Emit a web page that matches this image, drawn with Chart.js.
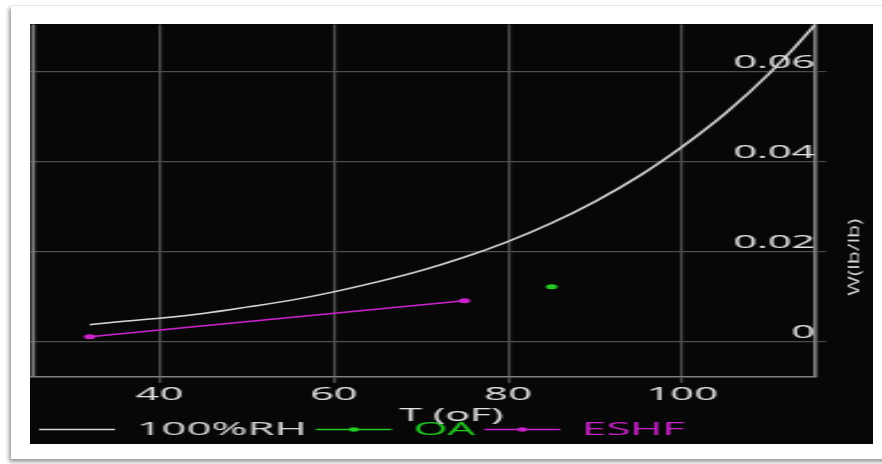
<!DOCTYPE html>
<html>
<head>
<meta charset="utf-8">
<title>Psychrometric chart</title>
<script src="https://cdn.jsdelivr.net/npm/chart.js@4.4.1/dist/chart.umd.min.js"></script>
<style>
  html, body { margin: 0; padding: 0; background: #fff; }
  body { width: 882px; height: 464px; position: relative; overflow: hidden; }
  #frame { position: absolute; left: 11px; top: 5px; width: 890px; height: 453px; background: #fff;
           border-top: 1px solid #e6e6e6; box-shadow: -2px 3px 4px rgba(0,0,0,0.4); }
  #chart { position: absolute; left: 30px; top: 24px; background: #070707; }
</style>
</head>
<body>
<div id="frame"></div>
<!-- the source screenshot was stretched sideways, so the canvas is drawn narrow and widened by CSS -->
<canvas id="chart" width="367" height="420" style="width: 843px; height: 420px;"></canvas>
<script>
// Data
const rhTemps = [32, 35, 40, 45, 50, 55, 60, 65, 70, 75, 80, 85, 90, 95, 100, 105, 110, 115, 120];
const rhW = [0.0038, 0.0044, 0.0052, 0.0063, 0.0077, 0.0092, 0.0111, 0.0133, 0.0158, 0.0188,
             0.0223, 0.0264, 0.0312, 0.0368, 0.0434, 0.0509, 0.0597, 0.0700, 0.0821];
const oaTemps = [85];
const oaW = [0.0122];
const eshfTemps = [32, 75];
const eshfW = [0.0011, 0.0091];

const seriesLabels = ['100%RH', 'OA', 'ESHF'];
const xTicks = [40, 60, 80, 100];
const xTickLabels = ['40', '60', '80', '100'];
const yTicks = [0, 0.02, 0.04, 0.06];
const yTickLabels = ['0', '0.02', '0.04', '0.06'];
const xTitle = 'T (oF)';
const yTitle = 'W(lb/lb)';

// Styling
const STRETCH = 843 / 367;
const seriesColors = ['#d6d6d6', '#22cc22', '#cc22cc'];
const textColor = '#e2e2e2';
const gridColor = '#4e4e4e';
const axisColor = '#808080';
const legendBox = 33;
const legendFont = 19;

Chart.defaults.font.family = "'Open Sans', sans-serif";
Chart.defaults.color = textColor;

const toPoints = (xs, ys) => xs.map((x, i) => ({ x: x, y: ys[i] }));

// left frame line, legend dots and the two axis titles
const extras = {
    id: 'extras',
    afterDraw(chart) {
        const { ctx, chartArea: area } = chart;
        ctx.save();
        ctx.strokeStyle = axisColor;
        ctx.lineWidth = 1.6;
        ctx.beginPath();
        ctx.moveTo(area.left + 1.4, area.top);
        ctx.lineTo(area.left + 1.4, area.bottom);
        ctx.stroke();

        chart.legend.legendHitBoxes.forEach((hb, i) => {
            if (!chart.data.datasets[i].pointRadius) return;
            ctx.fillStyle = seriesColors[i];
            ctx.beginPath();
            ctx.arc(hb.left + legendBox / 2, hb.top + legendFont / 2, 2.2, 0, Math.PI * 2);
            ctx.fill();
        });

        ctx.fillStyle = textColor;
        ctx.font = "18px 'Open Sans'";
        ctx.textAlign = 'center';
        ctx.textBaseline = 'middle';
        ctx.fillText(xTitle, chart.width / 2, area.bottom + 39);

        ctx.translate(area.right + 17.8, area.top + area.height * 0.66);
        ctx.scale(1 / STRETCH, 1);
        ctx.rotate(-Math.PI / 2);
        ctx.font = "15px 'Open Sans'";
        const w = ctx.measureText(yTitle).width;
        ctx.scale(77 / w, 1);
        ctx.fillStyle = '#d6d6d6';
        ctx.fillText(yTitle, 0, 0);
        ctx.restore();
    }
};

new Chart(document.getElementById('chart'), {
    type: 'scatter',
    data: {
        datasets: [
            {
                label: seriesLabels[0],
                data: toPoints(rhTemps, rhW),
                showLine: true,
                borderColor: seriesColors[0],
                borderWidth: 1.5,
                pointRadius: 0,
                cubicInterpolationMode: 'monotone'
            },
            {
                label: seriesLabels[1],
                data: toPoints(oaTemps, oaW),
                showLine: false,
                borderColor: seriesColors[1],
                backgroundColor: seriesColors[1],
                pointRadius: 2.5,
                pointBorderWidth: 0
            },
            {
                label: seriesLabels[2],
                data: toPoints(eshfTemps, eshfW),
                showLine: true,
                borderColor: seriesColors[2],
                backgroundColor: seriesColors[2],
                borderWidth: 1.5,
                pointRadius: 2.5,
                pointBorderWidth: 0
            }
        ]
    },
    options: {
        responsive: false,
        devicePixelRatio: 1,
        animation: false,
        layout: { autoPadding: false, padding: { left: 0, right: 0, top: 0, bottom: -5 } },
        plugins: {
            tooltip: { enabled: false },
            legend: {
                position: 'bottom',
                align: 'start',
                labels: {
                    boxWidth: legendBox,
                    boxHeight: 1.5,
                    padding: 4,
                    font: { size: legendFont },
                    generateLabels: chart => Chart.defaults.plugins.legend.labels.generateLabels(chart)
                        .map((item, i) => Object.assign(item, {
                            fillStyle: seriesColors[i],
                            strokeStyle: seriesColors[i],
                            lineWidth: 0,
                            fontColor: seriesColors[i]
                        }))
                }
            }
        },
        scales: {
            x: {
                type: 'linear',
                min: 25.14,
                max: 115.23,
                afterBuildTicks: s => { s.ticks = xTicks.map(v => ({ value: v })); },
                afterFit: s => { s.height = 39; },
                grid: { color: gridColor, lineWidth: 1.2, tickLength: 6, tickColor: gridColor, tickWidth: 1.2 },
                border: { display: true, color: axisColor, width: 1.6 },
                ticks: {
                    color: textColor,
                    font: { size: 18, lineHeight: 1 },
                    padding: 3,
                    maxRotation: 0,
                    autoSkip: false,
                    callback: (v, i) => xTickLabels[i]
                },
                title: { display: false }
            },
            y: {
                type: 'linear',
                position: 'right',
                min: -0.00784,
                max: 0.07055,
                afterBuildTicks: s => { s.ticks = yTicks.map(v => ({ value: v })); },
                afterFit: s => { s.width = 25.2; },
                grid: { color: gridColor, lineWidth: 1.2, tickLength: 5, tickColor: gridColor, tickWidth: 1 },
                border: { display: true, color: axisColor, width: 1.6 },
                ticks: {
                    mirror: true,
                    padding: 0,
                    labelOffset: -9,
                    color: textColor,
                    font: { size: 18, lineHeight: 0.05 },
                    autoSkip: false,
                    callback: (v, i) => yTickLabels[i]
                },
                title: { display: false }
            }
        }
    },
    plugins: [extras]
});
</script>
</body>
</html>
